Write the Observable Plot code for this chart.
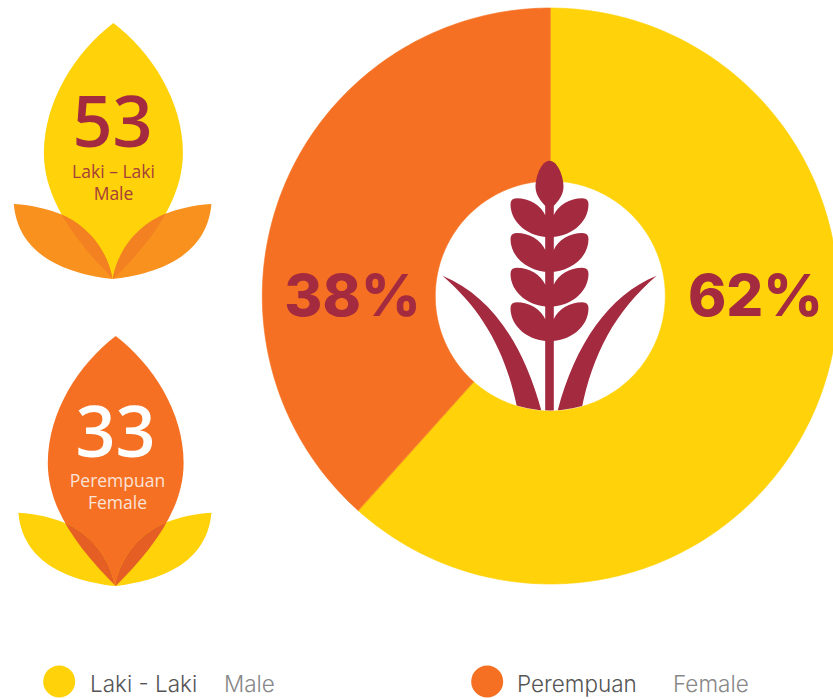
<!DOCTYPE html>
<html><head><meta charset="utf-8">
<script src="https://cdn.jsdelivr.net/npm/d3@7"></script>
<script src="https://cdn.jsdelivr.net/npm/@observablehq/plot@0.6"></script>
<style>html,body{margin:0;padding:0;background:#fff;overflow:hidden}svg{display:block}</style>
</head><body><div id="chart"></div>
<script>
const categories = ["Laki - Laki", "Perempuan"];
const englishNames = ["Male", "Female"];
const counts = [53, 33];
const percents = ["62%", "38%"];
const colors = ["#FFD209", "#F57022"];
const flowerLabels = ["Laki – Laki", "Perempuan"];
const WHEAT = "#A32A3F";

// layout in page units (x and y scales map them one to one)
const C = {x: 549.8, y: 295.5, r0: 115, r1: 288};

const pie = d3.pie().sort(null).startAngle(0).endAngle(2 * Math.PI)(counts);
const ring = pie.flatMap((s, i) => {
  const n = Math.ceil((s.endAngle - s.startAngle) * 60);
  const pts = [];
  for (let k = 0; k <= n; k++) {
    const a = s.startAngle + (s.endAngle - s.startAngle) * k / n;
    pts.push({key: categories[i], x: C.x + C.r1 * Math.sin(a), y: C.y - C.r1 * Math.cos(a)});
  }
  for (let k = n; k >= 0; k--) {
    const a = s.startAngle + (s.endAngle - s.startAngle) * k / n;
    pts.push({key: categories[i], x: C.x + C.r0 * Math.sin(a), y: C.y - C.r0 * Math.cos(a)});
  }
  return pts;
});

// flower icon
const NS = "http://www.w3.org/2000/svg";
const LEAF = "M0 -128 C-38 -99 -69.5 -50 -69.5 2 C-69.5 50 -36 92 0 128 C36 92 69.5 50 69.5 2 C69.5 -50 38 -99 0 -128Z";
const PETAL = s => `M${s*98.8} 53 C${s*80} 54 ${s*66} 58 ${s*55} 62 C${s*35} 69 ${s*7} 90 0 128 C${s*36} 124 ${s*94} 110 ${s*98.8} 53Z`;
function el(tag, attrs) {
  const e = document.createElementNS(NS, tag);
  for (const k in attrs) e.setAttribute(k, attrs[k]);
  return e;
}
function flower(id, cx, cy, k, leafFill, petalFill, overlapFill) {
  return () => {
    const g = el("g", {transform: `translate(${cx},${cy}) scale(${k})`});
    const clip = el("clipPath", {id});
    clip.append(el("path", {d: LEAF}));
    g.append(clip, el("path", {d: LEAF, fill: leafFill}));
    for (const s of [-1, 1]) {
      const p = el("g", {transform: "translate(-0.8,0)"});
      p.append(el("path", {d: PETAL(s), fill: petalFill}));
      const q = el("g", {"clip-path": `url(#${id})`});
      const r = el("path", {d: PETAL(s), fill: overlapFill, transform: "translate(-0.8,0)"});
      q.append(r);
      g.append(p, q);
    }
    return g;
  };
}
// wheat icon
function wheat() {
  const g = el("g", {fill: WHEAT, transform: `translate(549.5,0)`});
  const clip = el("clipPath", {id: "hole"});
  clip.append(el("circle", {cx: 0.5, cy: C.y, r: C.r0}));
  g.append(clip);
  g.append(el("path", {d: "M0 160.7 C8 160.7 14 176 14 187 C14 196 7 204 0 209.5 C-7 204 -14 196 -14 187 C-14 176 -8 160.7 0 160.7Z"}));
  for (const dy of [0, 34.7, 69.4, 104]) {
    g.append(el("path", {
      transform: `translate(0,${198.3 + dy})`,
      d: "M-4.2 17 C-8.5 7 -20 0 -33 0 Q-39 0 -39 6 C-39 25 -20 39 0 39 C20 39 39 25 39 6 Q39 0 33 0 C20 0 8.5 7 4.2 17Z"
    }));
  }
  const lower = el("g", {"clip-path": "url(#hole)"});
  lower.append(el("rect", {x: -4.3, y: 200, width: 8.6, height: 215}));
  for (const s of [-1, 1]) {
    lower.append(el("path", {d: `M${s*107} 275.7 C${s*58} 296 ${s*25} 345 ${s*7} 415 L${s*31} 415 C${s*42} 355 ${s*65} 312 ${s*107} 275.7Z`}));
  }
  g.append(lower);
  return g;
}

const legendX = [58.7, 486.7];
const legendLabelX = [89.5, 516.5];
const legendEnX = [223.5, 672.5];
const legendIdx = [0, 1];

const chart = Plot.plot({
  width: 833, height: 699,
  margin: 0,
  x: {domain: [0, 833], range: [0, 833], axis: null},
  y: {domain: [0, 699], range: [0, 699], axis: null},
  color: {domain: categories, range: colors},
  style: {background: "#fff"},
  marks: [
    Plot.line(ring, {x: "x", y: "y", z: "key", fill: "key", stroke: "key", strokeWidth: 0.6, curve: "linear-closed"}),
    wheat,
    Plot.text(percents, {x: [755, 352], y: [297, 297], text: d => d, fill: WHEAT,
      fontFamily: "Inter", fontWeight: 800, fontSize: 58}),
    flower("leafA", 113.4, 151, 1, colors[0], "#F8911E", "#F38122"),
    flower("leafB", 115.7, 461, 0.977, colors[1], colors[0], "#E55E24"),
    Plot.text(counts.slice(0, 1), {x: [112], y: [124], text: d => String(d), fill: WHEAT,
      fontFamily: "Open Sans", fontWeight: 600, fontSize: 70}),
    Plot.text(counts.slice(1), {x: [115], y: [434], text: d => String(d), fill: "#fff",
      fontFamily: "Open Sans", fontWeight: 600, fontSize: 70}),
    Plot.text(flowerLabels, {x: [113, 117], y: [172, 481], text: d => d, fill: ["#A5403A", "#FBE3D8"],
      fontFamily: "Open Sans", fontSize: 17.5}),
    Plot.text(englishNames, {x: [113, 117], y: [193.5, 503], text: d => d, fill: ["#A5403A", "#FBE3D8"],
      fontFamily: "Open Sans", fontSize: 17.5}),
    Plot.dot(legendIdx, {x: i => legendX[i], y: () => 681, r: 16, fill: i => categories[i], stroke: "none"}),
    Plot.text(categories, {x: legendLabelX, y: [684, 684], text: d => d, textAnchor: "start", fill: "#555",
      fontFamily: "Inter", fontWeight: 300, fontSize: 22.5}),
    Plot.text(englishNames, {x: legendEnX, y: [684, 684], text: d => d, textAnchor: "start", fill: "#888",
      fontFamily: "Inter", fontWeight: 300, fontSize: 22.5})
  ]
});
document.getElementById("chart").append(chart);
</script></body></html>
